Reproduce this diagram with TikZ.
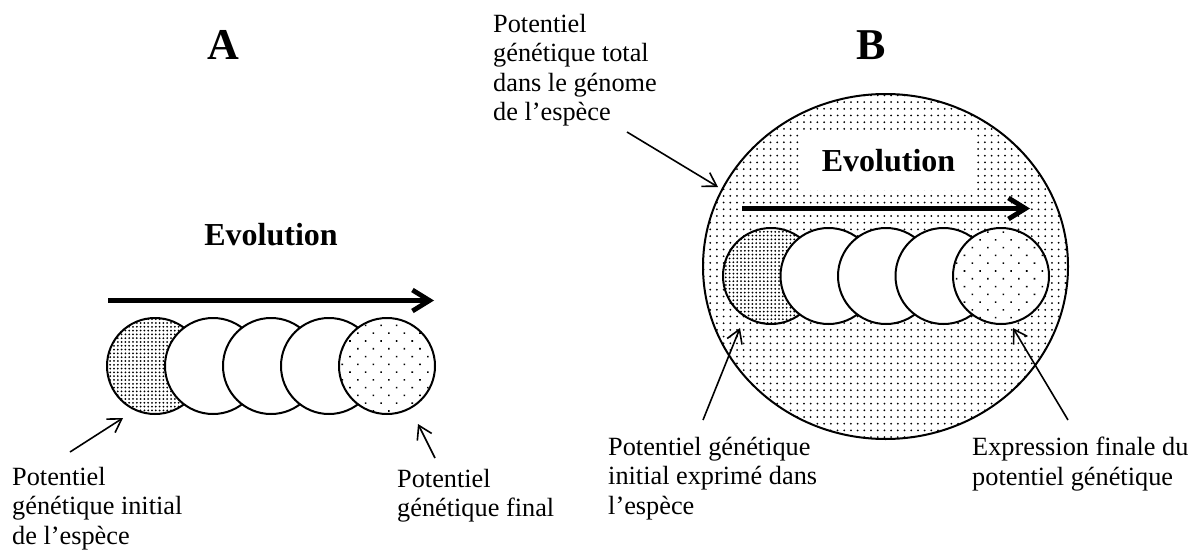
\documentclass[tikz,border=0pt]{standalone}
\usepackage{fontspec}
\setmainfont{Liberation Serif}
\usetikzlibrary{arrows.meta,patterns.meta,shapes.geometric}
\tikzset{
  bubble/.style={circle,draw,line width=2pt,minimum size=96pt,inner sep=0pt,fill=white},
  densefill/.style={preaction={fill=white},pattern={Dots[distance=3.8pt,radius=1pt]}},
  sparsefill/.style={preaction={fill=white},pattern={Dots[distance=11pt,radius=1.1pt,angle=45]}},
  bigfill/.style={pattern={Dots[distance=6.7pt,radius=1pt]}},
  evoarrow/.style={line width=4.8pt,-{Straight Barb[length=17pt,width=21pt]}},
  lblarrow/.style={line width=1.6pt,-{Straight Barb[length=13pt,width=16pt]}},
  lbl/.style={anchor=north west,inner sep=0pt,align=left,font=\fontsize{26.3}{29.5}\selectfont},
  title/.style={font=\bfseries\fontsize{44}{48}\selectfont,inner sep=0pt},
  evo/.style={font=\bfseries\fontsize{32}{36}\selectfont,inner sep=0pt}
}
\begin{document}
\begin{tikzpicture}[x=1pt,y=-1pt]
\useasboundingbox (0,0) rectangle (1193,551);
% ---------- Panel A ----------
\node[title] (tA) at (223,45) {A};
\node[evo] (evoA) at (271,235) {Evolution};
\coordinate (arA1) at (108,300.5);
\coordinate (arA2) at (434,300.5);
\draw[evoarrow] (arA1) -- (arA2);
\node[bubble,densefill] (a1) at (155,366) {};
\node[bubble] (a2) at (213,366) {};
\node[bubble] (a3) at (271,366) {};
\node[bubble] (a4) at (329,366) {};
\node[bubble,sparsefill] (a5) at (387,366) {};
\node[lbl] (lA1) at (12,467) {Potentiel\\génétique initial\\de l’espèce};
\node[lbl] (lA2) at (397,469) {Potentiel\\génétique final};
\coordinate (sA1) at (70,452);
\coordinate (hA1) at (123,418);
\coordinate (sA2) at (435,458);
\coordinate (hA2) at (418,424);
\draw[lblarrow] (sA1) -- (hA1);
\draw[lblarrow] (sA2) -- (hA2);
% ---------- Panel B ----------
\node[title] (tB) at (871.5,45) {B};
\node[ellipse,draw,line width=2pt,minimum width=365pt,minimum height=345pt,inner sep=0pt,bigfill] (big) at (885.5,266.5) {};
\node[evo,fill=white,minimum width=177pt,minimum height=58pt] (evoB) at (888.5,161) {Evolution};
\coordinate (arB1) at (742,208.5);
\coordinate (arB2) at (1030,208.5);
\draw[evoarrow] (arB1) -- (arB2);
\node[bubble,densefill] (b1) at (771,276) {};
\node[bubble] (b2) at (828.5,276) {};
\node[bubble] (b3) at (886,276) {};
\node[bubble] (b4) at (943.5,276) {};
\node[bubble,sparsefill] (b5) at (1001,276) {};
\node[lbl] (lB0) at (493,14) {Potentiel\\génétique total\\dans le génome\\de l’espèce};
\node[lbl] (lB1) at (608,437) {Potentiel génétique\\initial exprimé dans\\l’espèce};
\node[lbl] (lB2) at (972,437) {Expression finale du\\potentiel génétique};
\coordinate (sB0) at (627,132);
\coordinate (hB0) at (718,187);
\coordinate (sB1) at (703,420);
\coordinate (hB1) at (740,328);
\coordinate (sB2) at (1068,420);
\coordinate (hB2) at (1013,328);
\draw[lblarrow] (sB0) -- (hB0);
\draw[lblarrow] (sB1) -- (hB1);
\draw[lblarrow] (sB2) -- (hB2);
\end{tikzpicture}
\end{document}
